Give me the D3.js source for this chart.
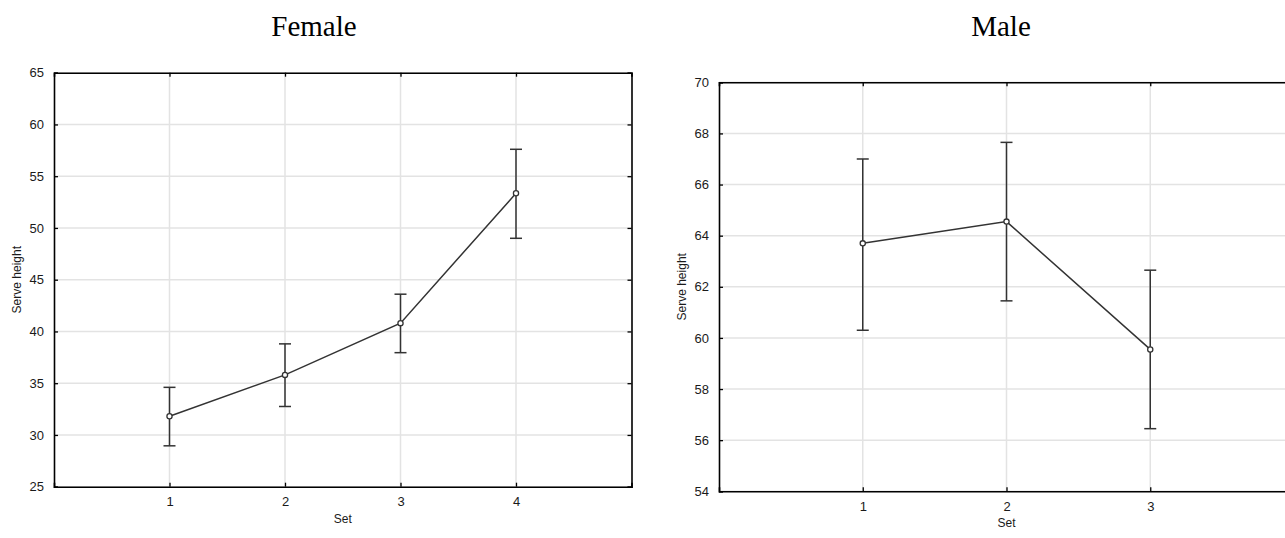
<!DOCTYPE html>
<html>
<head>
<meta charset="utf-8">
<script src="https://cdn.jsdelivr.net/npm/d3@7"></script>
<style>
  body { margin: 0; background: #fff; }
  svg { display: block; }
</style>
</head>
<body>
<div id="chart"></div>
<script>
// Female panel data
var femaleSets = [1, 2, 3, 4];
var femaleMean = [31.8, 35.8, 40.8, 53.35];
var femaleLow = [28.95, 32.75, 37.95, 49.0];
var femaleHigh = [34.6, 38.8, 43.6, 57.6];
var femaleYTicks = [25, 30, 35, 40, 45, 50, 55, 60, 65];

// Male panel data
var maleSets = [1, 2, 3];
var maleMean = [63.7, 64.55, 59.55];
var maleLow = [60.3, 61.45, 56.45];
var maleHigh = [67.0, 67.65, 62.65];
var maleYTicks = [54, 56, 58, 60, 62, 64, 66, 68, 70];

// Colours
var COLORS = {
  FRAME: '#000',
  GRID: '#e3e3e3',
  LINE: '#333',
  TEXT: '#1a1a1a'
};

var svg = d3.select('#chart')
  .append('svg')
  .attr('width', 1285)
  .attr('height', 538);

function drawPanel(opts) {
  var x = d3.scaleLinear().domain([0, opts.xMax]).range([opts.left, opts.right]);
  var y = d3.scaleLinear().domain(opts.yDomain).range([opts.bottom, opts.top]);
  var g = svg.append('g');

  // grid
  g.selectAll('.hgrid')
    .data(opts.yTicks)
    .enter().append('line')
    .attr('x1', opts.left).attr('x2', opts.right)
    .attr('y1', function(d) { return y(d); })
    .attr('y2', function(d) { return y(d); })
    .style('stroke', COLORS.GRID)
    .style('stroke-width', 1.5);
  g.selectAll('.vgrid')
    .data(opts.sets)
    .enter().append('line')
    .attr('y1', opts.top).attr('y2', opts.bottom)
    .attr('x1', function(d) { return x(d); })
    .attr('x2', function(d) { return x(d); })
    .style('stroke', COLORS.GRID)
    .style('stroke-width', 1.5);

  // axes, ticks pointing inwards
  var fmt = d3.format('d');
  var axes = [
    d3.axisLeft(y).tickValues(opts.yTicks).tickSize(-4).tickPadding(10).tickFormat(fmt),
    d3.axisRight(y).tickValues(opts.yTicks).tickSize(-4).tickFormat(''),
    d3.axisBottom(x).tickValues(opts.sets).tickSize(-4).tickPadding(10).tickFormat(fmt),
    d3.axisTop(x).tickValues(opts.sets).tickSize(-4).tickFormat('')
  ];
  var shifts = [
    [opts.left, 0], [opts.right, 0], [0, opts.bottom], [0, opts.top]
  ];
  axes.forEach(function(ax, i) {
    var a = g.append('g')
      .attr('transform', 'translate(' + shifts[i][0] + ',' + shifts[i][1] + ')')
      .call(ax);
    a.select('.domain').style('stroke', COLORS.FRAME).style('stroke-width', 1.6);
    a.selectAll('.tick line').style('stroke', COLORS.FRAME).style('stroke-width', 1.3);
    a.selectAll('text')
      .style('font-family', 'Arial, "Liberation Sans", sans-serif')
      .style('font-size', '13px')
      .style('fill', COLORS.TEXT);
  });

  // connecting line
  var pts = opts.sets.map(function(s, i) { return [s, opts.mean[i]]; });
  var line = d3.line()
    .x(function(d) { return x(d[0]); })
    .y(function(d) { return y(d[1]); });
  g.append('path')
    .datum(pts)
    .attr('d', line)
    .style('fill', 'none')
    .style('stroke', COLORS.LINE)
    .style('stroke-width', 1.5);

  // error bars
  var bars = g.selectAll('.err')
    .data(opts.sets)
    .enter().append('g');
  bars.append('line')
    .attr('x1', function(d) { return x(d); })
    .attr('x2', function(d) { return x(d); })
    .attr('y1', function(d, i) { return y(opts.low[i]); })
    .attr('y2', function(d, i) { return y(opts.high[i]); })
    .style('stroke', COLORS.LINE).style('stroke-width', 1.5);
  [opts.low, opts.high].forEach(function(arr) {
    bars.append('line')
      .attr('x1', function(d) { return x(d) - 6; })
      .attr('x2', function(d) { return x(d) + 6; })
      .attr('y1', function(d, i) { return y(arr[i]); })
      .attr('y2', function(d, i) { return y(arr[i]); })
      .style('stroke', COLORS.LINE).style('stroke-width', 1.5);
  });

  // points
  g.selectAll('.pt')
    .data(pts)
    .enter().append('circle')
    .attr('cx', function(d) { return x(d[0]); })
    .attr('cy', function(d) { return y(d[1]); })
    .attr('r', 2.6)
    .style('fill', '#fff')
    .style('stroke', COLORS.LINE)
    .style('stroke-width', 1.3);

  var cx = (opts.left + opts.right) / 2;
  var cy = (opts.top + opts.bottom) / 2;

  // title
  svg.append('text')
    .text(opts.title)
    .attr('x', opts.titleX)
    .attr('y', 36)
    .attr('text-anchor', 'middle')
    .style('font-family', '"Times New Roman", "Liberation Serif", serif')
    .style('font-size', '29px')
    .style('fill', '#000');

  // axis labels
  svg.append('text')
    .text('Set')
    .attr('x', cx)
    .attr('y', opts.bottom + 36)
    .attr('text-anchor', 'middle')
    .style('font-family', 'Arial, "Liberation Sans", sans-serif')
    .style('font-size', '12px')
    .style('fill', COLORS.TEXT);
  svg.append('text')
    .text('Serve height')
    .attr('transform', 'translate(' + opts.yLabelX + ',' + cy + ') rotate(-90)')
    .attr('text-anchor', 'middle')
    .style('font-family', 'Arial, "Liberation Sans", sans-serif')
    .style('font-size', '12px')
    .style('fill', COLORS.TEXT);
}

drawPanel({
  title: 'Female', titleX: 314,
  sets: femaleSets, mean: femaleMean, low: femaleLow, high: femaleHigh,
  yTicks: femaleYTicks, yDomain: [25, 65], xMax: 5,
  left: 54, right: 631.5, top: 72.7, bottom: 486.7, yLabelX: 21
});

drawPanel({
  title: 'Male', titleX: 1001,
  sets: maleSets, mean: maleMean, low: maleLow, high: maleHigh,
  yTicks: maleYTicks, yDomain: [54, 70], xMax: 4,
  left: 719, right: 1294, top: 82.3, bottom: 491.3, yLabelX: 686
});
</script>
</body>
</html>
